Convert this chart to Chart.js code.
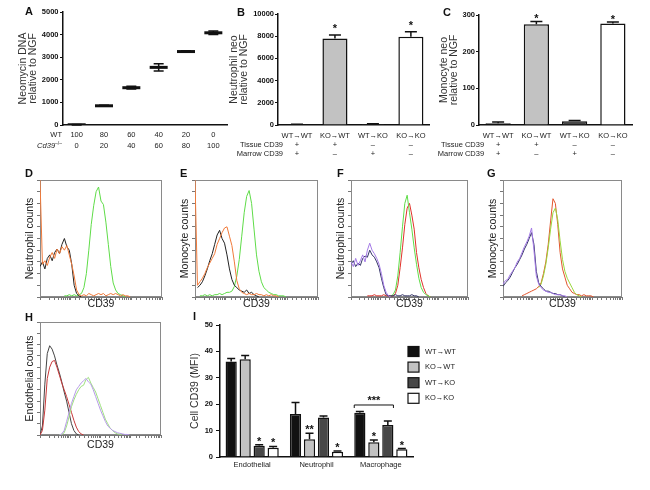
<!DOCTYPE html>
<html>
<head>
<meta charset="utf-8">
<script src="https://cdn.jsdelivr.net/npm/chart.js@4.4.1/dist/chart.umd.min.js"></script>
<style>
  body { margin: 0; background: #fff; font-family: "Liberation Sans", Arial, sans-serif; }
  #page { position: relative; width: 650px; height: 490px; overflow: hidden; background: #fff; }
  canvas { position: absolute; }
  .tag { position: absolute; font-weight: 900; font-size: 11px; line-height: 11px; color: #111; }
</style>
</head>
<body>
<div id="page">
  <canvas id="chartA" width="230" height="160" style="left:0;top:0"></canvas>
  <canvas id="chartB" width="210" height="160" style="left:222px;top:0"></canvas>
  <canvas id="chartC" width="218" height="160" style="left:432px;top:0"></canvas>
  <canvas id="histD" width="149" height="141" style="left:15px;top:170px"></canvas>
  <canvas id="histE" width="150" height="141" style="left:170px;top:170px"></canvas>
  <canvas id="histF" width="144" height="141" style="left:326px;top:170px"></canvas>
  <canvas id="histG" width="146" height="141" style="left:478px;top:170px"></canvas>
  <canvas id="histH" width="148" height="139" style="left:15px;top:312px"></canvas>
  <canvas id="chartI" width="280" height="165" style="left:185px;top:315px"></canvas>
  <div class="tag" style="left:25px;top:6px">A</div>
  <div class="tag" style="left:237px;top:7px">B</div>
  <div class="tag" style="left:443px;top:7px">C</div>
  <div class="tag" style="left:25px;top:168px">D</div>
  <div class="tag" style="left:180px;top:168px">E</div>
  <div class="tag" style="left:337px;top:168px">F</div>
  <div class="tag" style="left:487px;top:168px">G</div>
  <div class="tag" style="left:25px;top:312px">H</div>
  <div class="tag" style="left:193px;top:311px">I</div>
</div>
<script>
// ---- panel A: neomycin DNA in mixed marrow
const mixLabels = [['100', '0'], ['80', '20'], ['60', '40'], ['40', '60'], ['20', '80'], ['0', '100']];
const neoMean = [10, 850, 1650, 2550, 3250, 4080];
const neoErr = [15, 25, 60, 160, 35, 80];

// ---- panels B, C: chimeras
const groups = ['WT→WT', 'KO→WT', 'WT→KO', 'KO→KO'];
const tissueSign = ['+', '+', '–', '–'];
const marrowSign = ['+', '–', '+', '–'];
const neutNeo = [40, 7800, 90, 7950];
const neutNeoErr = [20, 300, 30, 450];
const monoNeo = [5, 275, 10, 277];
const monoNeoErr = [3, 7, 2, 4];
const groupStars = ['', '*', '', '*'];
const groupColors = ['#111111', '#c2c2c2', '#474747', '#ffffff'];

// ---- panel I: CD39 MFI
const cellTypes = ['Endothelial', 'Neutrophil', 'Macrophage'];
const mfiWTWT = [36.2, 16.3, 16.8];
const mfiWTWTErr = [1.1, 4.3, 0.4];
const mfiKOWT = [37.0, 6.7, 5.6];
const mfiKOWTErr = [1.4, 2.3, 0.8];
const mfiWTKO = [4.3, 15.0, 12.1];
const mfiWTKOErr = [0.3, 0.5, 1.5];
const mfiKOKO = [3.5, 2.0, 2.9];
const mfiKOKOErr = [0.5, 0.3, 0.3];
const bracketLevel = 19.7;

// ---- histograms D-H (channel = % of axis width, counts = % of box height)
const channel = [0, 2, 4, 6, 8, 10, 12, 14, 16, 18, 20, 22, 24, 26, 28, 30, 32, 34, 36, 38, 40, 42, 44, 46, 48, 50,
  52, 54, 56, 58, 60, 62, 64, 66, 68, 70, 72, 74, 76, 78, 80, 82, 84, 86, 88, 90, 92, 94, 96, 98, 100];
const _ = null;
const dBlack = [26, 30, 24, 33, 36, 31, 38, 41, 37, 45, 50, 43, 40, 28, 10, 3, 1, 0];
const dOrange = [100, 28, 31, 27, 34, 38, 33, 41, 37, 43, 40, 44, 36, 28, 18, 6, 2, 1, 2, 1, 3, 2, 1, 2, 3, 2, 3, 1, 2, 3, 2, 3, 2, 1, 2, 1, 1, 0];
const dGreen = [_, _, _, _, _, _, _, _, _, _, 1, 1, 2, 1, 2, 1, 2, 3, 8, 20, 40, 62, 78, 90, 94, 82, 79, 64, 45, 26, 12, 6, 3, 2, 1, 0];
const eBlack = [_, 8, 10, 13, 18, 24, 31, 37, 45, 53, 57, 50, 46, 36, 24, 15, 10, 8, 6, 5, 4, 6, 3, 4, 2, 1, 0];
const eOrange = [100, 10, 13, 16, 20, 25, 29, 33, 37, 45, 50, 55, 59, 60, 52, 44, 30, 14, 7, 4, 3, 2, 3, 2, 2, 3, 2, 2, 1, 2, 1, 2, 1, 1, 0];
const eGreen = [_, _, 1, 1, 2, 1, 2, 1, 2, 2, 3, 2, 3, 4, 4, 5, 9, 18, 32, 52, 72, 86, 91, 80, 58, 36, 22, 13, 8, 6, 4, 3, 2, 2, 1, 1, 1, 0];
const fPurple = [30, 26, 33, 27, 31, 36, 30, 40, 46, 40, 37, 33, 28, 20, 10, 4, 1, 0];
const fBlack = [28, 31, 26, 29, 27, 33, 35, 34, 40, 36, 34, 30, 25, 16, 8, 2, 1, 1, 1, 2, 1, 1, 2, 1, 1, 1, 2, 1, 1, 0];
const fGreen = [_, _, _, _, _, _, _, _, _, _, _, _, _, _, _, _, _, 1, 2, 6, 18, 38, 60, 80, 87, 72, 58, 42, 28, 16, 8, 4, 2, 1, 0];
const fRed = [_, _, _, _, _, _, _, 1, 1, 1, 2, 1, 1, 1, 2, 1, 1, 1, 1, 3, 10, 25, 42, 62, 76, 80, 70, 58, 38, 25, 15, 8, 3, 1, 0];
const gPurple = [11, 14, 15, 19, 22, 25, 30, 33, 38, 43, 47, 52, 59, 40, 18, 11, 8, 6, 5, 4, 4, 3, 2, 2, 2, 1, 1, 0];
const gBlack = [9, 12, 14, 17, 21, 25, 28, 32, 36, 41, 45, 50, 55, 45, 22, 12, 9, 7, 5, 5, 4, 3, 3, 2, 2, 1, 0];
const gOrange = [_, _, _, _, _, _, _, _, 1, 2, 3, 4, 5, 6, 7, 9, 12, 20, 30, 45, 65, 84, 80, 62, 38, 24, 17, 10, 7, 4, 3, 2, 2, 1, 2, 1, 1, 1, 0];
const gGreen = [_, _, _, _, _, _, _, _, _, _, _, _, _, _, _, 8, 11, 18, 28, 42, 58, 72, 76, 66, 48, 32, 22, 16, 12, 8, 4, 2, 1, 0];
const hBlack = [0, 8, 45, 72, 79, 76, 70, 62, 55, 47, 38, 30, 20, 10, 4, 1, 0];
const hRed = [0, 4, 22, 50, 60, 65, 66, 60, 53, 46, 40, 34, 27, 20, 13, 7, 3, 1, 0];
const hPurple = [_, _, _, _, _, _, _, _, 0, 1, 4, 12, 20, 28, 34, 40, 43, 46, 48, 50, 47, 45, 40, 34, 28, 22, 17, 12, 8, 6, 4, 3, 2, 1.5, 1, 0.5, 0.5, 0];
const hGreen = [_, _, _, _, _, _, _, _, 0, 0.5, 2, 8, 16, 25, 31, 36, 40, 43, 44, 49, 51, 46, 42, 38, 32, 26, 20, 14, 10, 6, 4, 2, 1, 0.5, 0];

const FONT = '"Liberation Sans", Arial, sans-serif';
Chart.defaults.font.family = FONT;
Chart.defaults.color = '#222';

const errorBars = {
  id: 'errorBars',
  afterDatasetsDraw(chart, args, opts) {
    const ctx = chart.ctx, ys = chart.scales.y;
    ctx.save();
    ctx.strokeStyle = '#111';
    ctx.lineWidth = 1.5;
    chart.data.datasets.forEach((ds, di) => {
      if (!ds.errors) return;
      chart.getDatasetMeta(di).data.forEach((el, i) => {
        const v = ds.data[i], e = ds.errors[i];
        const top = ys.getPixelForValue(v + e);
        const bot = ys.getPixelForValue(opts.both ? v - e : v);
        ctx.beginPath();
        ctx.moveTo(el.x, bot);
        ctx.lineTo(el.x, top);
        ctx.moveTo(el.x - opts.cap, top);
        ctx.lineTo(el.x + opts.cap, top);
        if (opts.both) {
          ctx.moveTo(el.x - opts.cap, bot);
          ctx.lineTo(el.x + opts.cap, bot);
        }
        ctx.stroke();
        if (ds.stars && ds.stars[i]) {
          ctx.fillStyle = '#111';
          ctx.font = 'bold 11px ' + FONT;
          ctx.textAlign = 'center';
          ctx.textBaseline = 'alphabetic';
          ctx.fillText(ds.stars[i], el.x, top - opts.starGap);
        }
      });
    });
    ctx.restore();
  }
};

const rowHeads = {
  id: 'rowHeads',
  afterDraw(chart, args, opts) {
    const ctx = chart.ctx;
    const x = chart.scales.x.getPixelForTick(0) - 14;
    const b = chart.chartArea.bottom;
    ctx.save();
    ctx.fillStyle = '#222';
    ctx.font = '7.5px ' + FONT;
    ctx.textAlign = 'right';
    ctx.textBaseline = 'middle';
    ctx.fillText('Tissue CD39', x, b + 20.2);
    ctx.fillText('Marrow CD39', x, b + 29.4);
    ctx.restore();
  }
};

const mixHeads = {
  id: 'mixHeads',
  afterDraw(chart) {
    const ctx = chart.ctx;
    const x = chart.chartArea.left - 1;
    const b = chart.chartArea.bottom;
    ctx.save();
    ctx.fillStyle = '#222';
    ctx.textAlign = 'right';
    ctx.textBaseline = 'middle';
    ctx.font = '7.5px ' + FONT;
    ctx.fillText('WT', x, b + 10);
    ctx.font = '5px ' + FONT;
    ctx.fillText('–/–', x, b + 19);
    const w = ctx.measureText('–/–').width;
    ctx.font = 'italic 7.5px ' + FONT;
    ctx.fillText('Cd39', x - w, b + 21);
    ctx.restore();
  }
};

const mfiExtras = {
  id: 'mfiExtras',
  afterDraw(chart) {
    const ctx = chart.ctx, ys = chart.scales.y;
    ctx.save();
    ctx.font = '7.5px ' + FONT;
    ctx.textBaseline = 'middle';
    ctx.textAlign = 'left';
    chart.data.datasets.forEach((ds, i) => {
      const cy = 36.5 + i * 15.6;
      ctx.fillStyle = ds.backgroundColor;
      ctx.fillRect(223, cy - 5, 11, 10);
      ctx.strokeStyle = '#111';
      ctx.lineWidth = 1.2;
      ctx.strokeRect(223, cy - 5, 11, 10);
      ctx.fillStyle = '#222';
      ctx.fillText(ds.label, 240, cy);
    });
    const m0 = chart.getDatasetMeta(0).data[2], m2 = chart.getDatasetMeta(2).data[2];
    const x1 = m0.x - m0.width / 2, x2 = m2.x + m2.width / 2;
    const y = ys.getPixelForValue(bracketLevel);
    ctx.strokeStyle = '#111';
    ctx.lineWidth = 1;
    ctx.beginPath();
    ctx.moveTo(x1, y + 3);
    ctx.lineTo(x1, y);
    ctx.lineTo(x2, y);
    ctx.lineTo(x2, y + 3);
    ctx.stroke();
    ctx.fillStyle = '#111';
    ctx.font = 'bold 11px ' + FONT;
    ctx.textAlign = 'center';
    ctx.textBaseline = 'alphabetic';
    ctx.fillText('***', (x1 + x2) / 2, y - 0.5);
    ctx.restore();
  }
};

const frame = {
  id: 'frame',
  beforeDatasetsDraw(chart) {
    const a = chart.chartArea, ctx = chart.ctx;
    ctx.save();
    ctx.strokeStyle = '#8a8a8a';
    ctx.lineWidth = 1;
    ctx.strokeRect(a.left + 0.5, a.top + 0.5, a.right - a.left - 1, a.bottom - a.top - 1);
    ctx.restore();
  }
};

function valueAxis(max, step, title, titlePad, width, tl, pad) {
  return {
    min: 0, max: max,
    ticks: { stepSize: step, font: { size: 7.5, weight: 'bold' }, color: '#111', padding: pad, callback: v => String(v) },
    grid: { drawOnChartArea: false, drawTicks: true, tickLength: tl, color: '#111', lineWidth: 1 },
    border: { color: '#111', width: 1.5 },
    title: { display: true, text: title, font: { size: 10.5, lineHeight: 1 }, color: '#333', padding: { top: titlePad, bottom: 0 } },
    afterFit: s => { s.width = width; }
  };
}

function catAxis(lineH, pad, height) {
  return {
    offset: true,
    grid: { display: false, drawTicks: false },
    border: { color: '#111', width: 1.5 },
    ticks: { font: { size: 7.5, lineHeight: lineH }, color: '#222', padding: pad, maxRotation: 0, autoSkip: false },
    afterFit: s => { s.height = height; }
  };
}

const baseOpts = {
  responsive: false,
  animation: false,
  events: []
};

// A
new Chart(document.getElementById('chartA'), {
  type: 'line',
  data: {
    labels: mixLabels,
    datasets: [{
      data: neoMean, errors: neoErr, showLine: false,
      pointStyle: 'line', pointRadius: 9, pointBorderWidth: 3, pointBorderColor: '#111'
    }]
  },
  options: Object.assign({}, baseOpts, {
    layout: { autoPadding: false, padding: { top: 12, right: 3, left: 0, bottom: 0 } },
    plugins: { legend: { display: false }, tooltip: { enabled: false }, errorBars: { both: true, cap: 5, starGap: 0 } },
    scales: {
      x: catAxis(11 / 7.5, 4.5, 35),
      y: valueAxis(5000, 1000, ['Neomycin DNA', 'relative to NGF'], 17.75, 63, 3, 1.5)
    }
  }),
  plugins: [errorBars, mixHeads]
});

function groupChart(id, values, errs, max, step, title, yWidth, padTop, padRight, starGap) {
  new Chart(document.getElementById(id), {
    type: 'bar',
    data: {
      labels: groups.map((g, i) => [g, tissueSign[i], marrowSign[i]]),
      datasets: [{
        data: values, errors: errs, stars: groupStars,
        backgroundColor: groupColors, borderColor: '#111', borderWidth: 1.5,
        categoryPercentage: 1, barPercentage: 0.66
      }]
    },
    options: Object.assign({}, baseOpts, {
      layout: { autoPadding: false, padding: { top: padTop, right: padRight, left: 0, bottom: 0 } },
      plugins: { legend: { display: false }, tooltip: { enabled: false }, errorBars: { both: false, cap: 6, starGap: starGap } },
      scales: {
        x: catAxis(9.2 / 7.5, 6.4, 35),
        y: valueAxis(max, step, title, 6.75, yWidth, 3, 1)
      }
    }),
    plugins: [errorBars, rowHeads]
  });
}

groupChart('chartB', neutNeo, neutNeoErr, 10000, 2000, ['Neutrophil neo', 'relative to NGF'], 56, 14, 1, 3.2);
groupChart('chartC', monoNeo, monoNeoErr, 300, 100, ['Monocyte neo', 'relative to NGF'], 47, 15, 18, -0.8);

// D-H histograms
function histChart(id, yTitle, curves, axisH, titleGap) {
  new Chart(document.getElementById(id), {
    type: 'line',
    data: {
      datasets: curves.map(c => ({
        xAxisID: 'x', yAxisID: 'y',
        data: c.y.map((v, i) => ({ x: channel[i], y: v })),
        borderColor: c.color, borderWidth: 1, pointRadius: 0, tension: 0, fill: false
      }))
    },
    options: Object.assign({}, baseOpts, {
      layout: { autoPadding: false, padding: { top: 10, right: 2, left: 0, bottom: 0 } },
      plugins: { legend: { display: false }, tooltip: { enabled: false } },
      scales: {
        x: { type: 'linear', min: 0, max: 100, display: false },
        xl: {
          type: 'logarithmic', axis: 'x', position: 'bottom', min: 1, max: 10000,
          ticks: { display: false },
          grid: { drawOnChartArea: false, drawTicks: true, tickLength: 3, color: '#777' },
          border: { color: '#777' },
          title: { display: true, text: 'CD39', font: { size: 10.5, lineHeight: 1 }, color: '#222', padding: { top: 0, bottom: titleGap } },
          afterFit: s => { s.height = axisH; }
        },
        y: {
          min: 0, max: 100,
          ticks: { display: false, stepSize: 10 },
          grid: { drawOnChartArea: false, drawTicks: true, tickLength: 3, color: '#777' },
          border: { color: '#777' },
          title: { display: true, text: yTitle, font: { size: 10.5, lineHeight: 1 }, color: '#222', padding: { top: 9.75, bottom: 0 } },
          afterFit: s => { s.width = 25; }
        }
      }
    }),
    plugins: [frame]
  });
}

const BLACK = '#222222', ORANGE = '#f07a3a', GREEN = '#5fdc48', PURPLE = '#a47ae6', RED = '#e0322a';

histChart('histD', 'Neutrophil counts', [
  { y: dOrange, color: ORANGE }, { y: dBlack, color: BLACK }, { y: dGreen, color: GREEN }
], 14, 1.25);
histChart('histE', 'Monocyte counts', [
  { y: eOrange, color: ORANGE }, { y: eBlack, color: BLACK }, { y: eGreen, color: GREEN }
], 14, 1.25);
histChart('histF', 'Neutrophil counts', [
  { y: fPurple, color: PURPLE }, { y: fBlack, color: '#333366' }, { y: fGreen, color: GREEN }, { y: fRed, color: RED }
], 14, 1.25);
histChart('histG', 'Monocyte counts', [
  { y: gPurple, color: PURPLE }, { y: gBlack, color: '#333366' }, { y: gGreen, color: '#9ad63c' }, { y: gOrange, color: '#e2552c' }
], 14, 1.25);
histChart('histH', 'Endothelial counts', [
  { y: hPurple, color: '#b79be8' }, { y: hGreen, color: '#9ee07e' }, { y: hRed, color: '#c8393a' }, { y: hBlack, color: '#444444' }
], 16, 0.75);

// I
function mfiSet(label, data, errs, color, stars) {
  return {
    label: label, data: data, errors: errs, stars: stars,
    backgroundColor: color, borderColor: '#111', borderWidth: 1.5,
    categoryPercentage: 0.87, barPercentage: 0.8
  };
}

new Chart(document.getElementById('chartI'), {
  type: 'bar',
  data: {
    labels: cellTypes,
    datasets: [
      mfiSet(groups[0], mfiWTWT, mfiWTWTErr, groupColors[0], ['', '', '']),
      mfiSet(groups[1], mfiKOWT, mfiKOWTErr, groupColors[1], ['', '**', '*']),
      mfiSet(groups[2], mfiWTKO, mfiWTKOErr, groupColors[2], ['*', '', '']),
      mfiSet(groups[3], mfiKOKO, mfiKOKOErr, groupColors[3], ['*', '*', '*'])
    ]
  },
  options: Object.assign({}, baseOpts, {
    layout: { autoPadding: false, padding: { top: 10, right: 52, left: 0, bottom: 0 } },
    plugins: { legend: { display: false }, tooltip: { enabled: false }, errorBars: { both: false, cap: 4, starGap: 0 } },
    scales: {
      x: catAxis(1.2, 3.5, 23),
      y: valueAxis(50, 10, 'Cell CD39 (MFI)', 5, 35, 4, 3)
    }
  }),
  plugins: [errorBars, mfiExtras]
});
</script>
</body>
</html>
